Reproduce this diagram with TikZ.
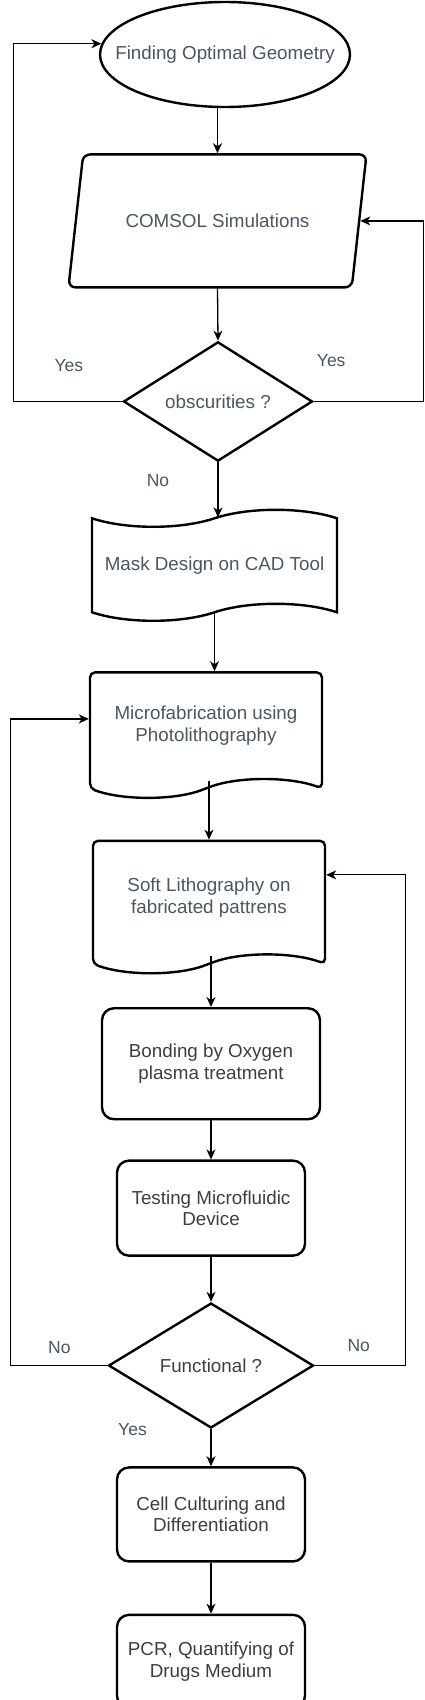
\documentclass[tikz,border=0pt]{standalone}
\usepackage{fontspec}
\setmainfont{Liberation Sans}
\usepackage{tikz}
\usetikzlibrary{arrows.meta,shapes,positioning}
\usepackage{xcolor}
\definecolor{dfslate}{RGB}{74,86,100}
\definecolor{dfgray}{RGB}{62,62,62}
\tikzstyle{arrow} = [line width=1.3pt,-{Stealth[length=10pt,width=9pt,inset=3pt]}]
\tikzstyle{base} = [draw, line width=2.4pt, text=dfslate, align=center, font=\fontsize{18.8}{21.6}\selectfont]
\tikzstyle{terminal} = [base, ellipse, minimum width=250pt, minimum height=105pt, inner xsep=-24pt, inner ysep=0pt]
\tikzstyle{iobox} = [base, trapezium, trapezium left angle=63, trapezium right angle=117,
    trapezium stretches=true, minimum width=299pt, minimum height=133pt, rounded corners=7pt]
\tikzstyle{decision} = [base, diamond, inner sep=0pt]
\tikzstyle{tapebox} = [base, tape, tape bend top=in and out, tape bend bottom=in and out, tape bend height=17pt]
\tikzstyle{docbox} = [base, tape, tape bend top=none, tape bend bottom=in and out, tape bend height=18pt, rounded corners=5pt]
\tikzstyle{process} = [base, rectangle, rounded corners=12pt, text=dfgray]
\tikzstyle{lbl} = [text=dfslate, font=\fontsize{17.5}{20}\selectfont]

\begin{document}
\begin{tikzpicture}[node distance=45pt]
\useasboundingbox (0pt,0pt) rectangle (425pt,-1700pt);
\node[terminal] (geom) at (225pt,-54.5pt) {Finding Optimal Geometry};
\node[iobox, below=45pt of geom, xshift=-7.5pt] (comsol) {COMSOL Simulations};
\node[decision, minimum width=189pt, minimum height=113pt, below=52pt of comsol, xshift=0.5pt] (obs) {obscurities ?};
\node[tapebox, minimum width=245pt, minimum height=111pt, below=55pt of obs, xshift=-3.5pt] (mask) {Mask Design on CAD Tool};
\node[docbox, minimum width=232pt, minimum height=125pt, below=58pt of mask, xshift=-8.5pt] (micro) {Microfabrication using\\Photolithography};
\node[docbox, minimum width=232pt, minimum height=132pt, below=59pt of micro, xshift=3pt] (soft) {Soft Lithography on\\fabricated pattrens};
\node[process, minimum width=218pt, minimum height=111pt, below=51pt of soft, xshift=2pt] (bond) {Bonding by Oxygen\\plasma treatment};
\node[process, minimum width=188pt, minimum height=95pt, below=39pt of bond] (test) {Testing Microfluidic\\Device};
\node[decision, text=dfgray, minimum width=205pt, minimum height=125pt, below=45pt of test] (func) {Functional ?};
\node[process, minimum width=188pt, minimum height=94pt, below=37pt of func] (cell) {Cell Culturing and\\Differentiation};
\node[process, minimum width=188pt, minimum height=93pt, below=51pt of cell] (pcr) {PCR, Quantifying of\\Drugs Medium};

\draw[arrow] (geom.south -| comsol.north) -- (comsol.north);
\draw[arrow] (comsol.south) -- (obs.north);
\draw[arrow] (obs.south) -- (obs.south |- mask.north);
\draw[arrow] (mask.south) -- (mask.south |- micro.north);
\draw[arrow] (micro.south -| soft.north) -- (soft.north);
\draw[arrow] (soft.south -| bond.north) -- (bond.north);
\draw[arrow] (bond) -- (test);
\draw[arrow] (test) -- (func);
\draw[arrow] (func) -- (cell);
\draw[arrow] (cell) -- (pcr);

\draw[arrow] (obs.west) -- ++(-108.5pt,0) |- (geom.175);
\draw[arrow] (obs.east) -- ++(109.5pt,0) |- (comsol.east);
\draw[arrow] (func.west) -- ++(-96.5pt,0) |- ([yshift=7pt]micro.west);
\draw[arrow] (func.east) -- ++(90.5pt,0) |- ([yshift=23pt]soft.east);

\node[lbl] (yesl) at ([xshift=-53.5pt,yshift=36pt]obs.west) {Yes};
\node[lbl] (yesr) at ([xshift=17.5pt,yshift=41pt]obs.east) {Yes};
\node[lbl] (nob) at ([xshift=-60pt,yshift=-18pt]obs.south) {No};
\node[lbl] (nol) at ([xshift=-48pt,yshift=17.5pt]func.west) {No};
\node[lbl] (nor) at ([xshift=44pt,yshift=19.5pt]func.east) {No};
\node[lbl] (yesb) at ([xshift=-78.5pt]func.south) {Yes};
\end{tikzpicture}
\end{document}
